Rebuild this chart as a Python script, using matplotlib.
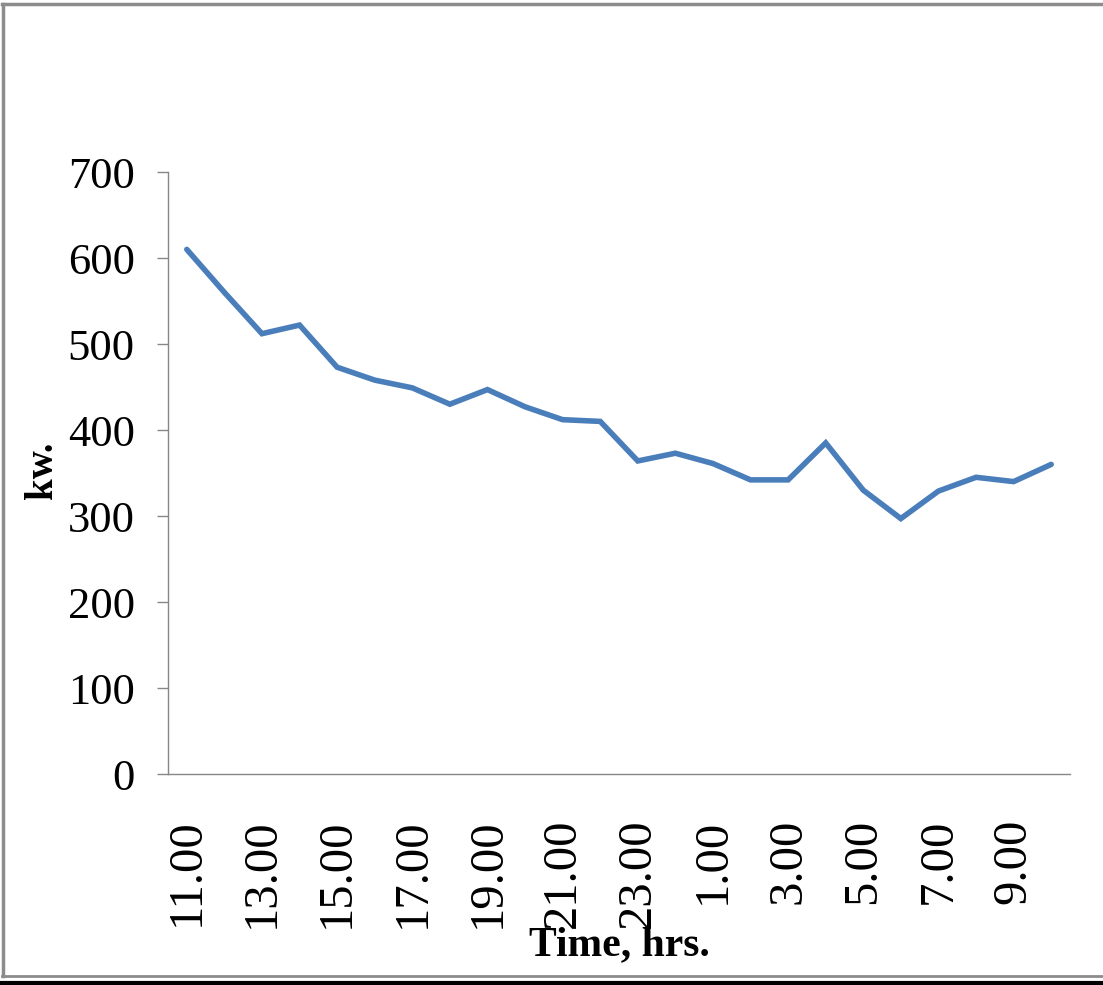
import matplotlib.pyplot as plt
from matplotlib.lines import Line2D

# hourly load readings, 11.00 through 10.00 next morning
hours = ["11.00", "12.00", "13.00", "14.00", "15.00", "16.00", "17.00", "18.00",
         "19.00", "20.00", "21.00", "22.00", "23.00", "24.00", "1.00", "2.00",
         "3.00", "4.00", "5.00", "6.00", "7.00", "8.00", "9.00", "10.00"]
kw = [610, 560, 512, 522, 473, 458, 449, 430, 447, 427, 412, 410,
      364, 373, 361, 342, 342, 385, 330, 297, 329, 345, 340, 360]
yticks = [0, 100, 200, 300, 400, 500, 600, 700]

plt.rcParams['font.family'] = ['Liberation Serif', 'DejaVu Serif']

fig = plt.figure(figsize=(11.03, 9.85), dpi=100)
ax = fig.add_axes([168/1103, (985-774)/985, (1070-168)/1103, (774-172)/985])

x = list(range(len(hours)))
ax.plot(x, kw, color='#4a7ebb', lw=4.0, solid_capstyle='round', solid_joinstyle='miter')

ax.set_xlim(-0.5, len(hours) - 0.5)
ax.set_ylim(0, 700)
ax.set_yticks(yticks)
ax.set_yticklabels([str(v) for v in yticks], fontsize=32)
ax.set_xticks(x[::2])
ax.set_xticklabels(hours[::2], rotation=90, fontsize=35, va='top', ha='center')

ax.tick_params(axis='y', length=8, width=1, color='#878787', pad=16)
ax.tick_params(axis='x', length=0, pad=32)

for s in ['top', 'right']:
    ax.spines[s].set_visible(False)
for s in ['left', 'bottom']:
    ax.spines[s].set_color('#878787')
    ax.spines[s].set_linewidth(1)

ax.set_ylabel("kw.", fontsize=28, fontweight='bold', va='center')
ax.yaxis.set_label_coords((42-168)/902, (774-470)/602)
ax.set_xlabel("Time, hrs.", fontsize=30, fontweight='bold', va='center')
ax.xaxis.set_label_coords(0.5, (774-945)/602)

# page border lines (top, left, bottom)
fig.add_artist(Line2D([0.002, 0.999], [1-4/985, 1-4/985], color='#8c8c8c', lw=2.5, transform=fig.transFigure))
fig.add_artist(Line2D([3/1103, 3/1103], [1-4/985, 1-976/985], color='#8c8c8c', lw=2.5, transform=fig.transFigure))
fig.add_artist(Line2D([0.002, 0.999], [1-976/985, 1-976/985], color='#8c8c8c', lw=2, transform=fig.transFigure))
fig.add_artist(Line2D([0, 1], [1-983/985, 1-983/985], color='black', lw=3, transform=fig.transFigure))

fig.savefig("out.png", dpi=100)
